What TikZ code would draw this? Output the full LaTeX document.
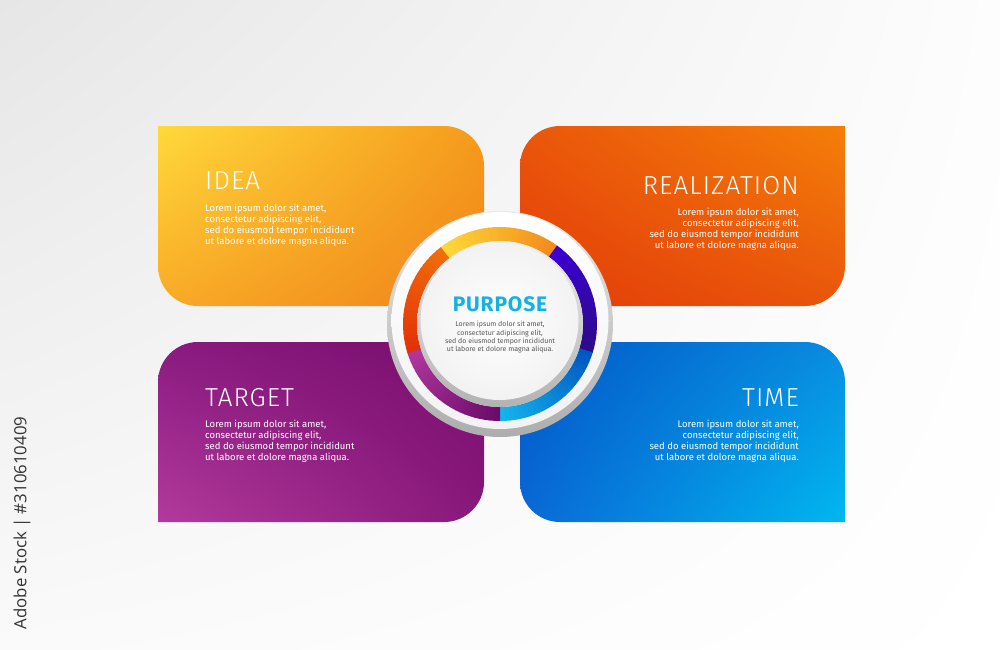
\documentclass[tikz,border=0pt]{standalone}
\usepackage{fontspec}
\usetikzlibrary{shadings}
\setmainfont{Fira Sans}
\newfontfamily\titlefont[LetterSpace=4]{Fira Sans Light}
\newfontfamily\purposefont[LetterSpace=4]{Fira Sans Bold}
\newfontfamily\wmfont{Open Sans}
\definecolor{bgA}{HTML}{E6E6E6}
\definecolor{bgB}{HTML}{FDFDFD}
\definecolor{bgC}{HTML}{FAFAFA}
\definecolor{ideaA}{HTML}{FFD93B}
\definecolor{ideaB}{HTML}{F59A1C}
\definecolor{ideaC}{HTML}{F8AA26}
\definecolor{ideaD}{HTML}{F0841A}
\definecolor{realA}{HTML}{EA560B}
\definecolor{realB}{HTML}{F47F08}
\definecolor{realC}{HTML}{E33C08}
\definecolor{realD}{HTML}{E9560C}
\definecolor{targA}{HTML}{8A1A80}
\definecolor{targB}{HTML}{770E6C}
\definecolor{targC}{HTML}{B23A9C}
\definecolor{targD}{HTML}{88187A}
\definecolor{timeA}{HTML}{0057C6}
\definecolor{timeB}{HTML}{0A8CE0}
\definecolor{timeC}{HTML}{0A68D6}
\definecolor{timeD}{HTML}{00B8F0}
\definecolor{segYa}{HTML}{FFD93A}
\definecolor{segYb}{HTML}{F28A1C}
\definecolor{segIa}{HTML}{3C00D4}
\definecolor{segIb}{HTML}{2C0C88}
\definecolor{segBa}{HTML}{0055C0}
\definecolor{segBb}{HTML}{14B6EE}
\definecolor{segPa}{HTML}{6A0A6A}
\definecolor{segPb}{HTML}{B0389C}
\definecolor{segRa}{HTML}{E43008}
\definecolor{segRb}{HTML}{F06E0A}
\definecolor{purpose}{HTML}{12B2E6}
\definecolor{bodygray}{HTML}{555555}
\definecolor{wmgray}{HTML}{333333}
\tikzset{
  titletext/.style={font=\titlefont\fontsize{26}{30}\selectfont, text=white, inner sep=0pt},
  bodytext/.style={font=\fontsize{9.5}{11}\selectfont, text=white, inner sep=0pt},
}
\begin{document}
\begin{tikzpicture}[x=1pt,y=-1pt]
\useasboundingbox (0,0) rectangle (1000,649);
% background
\shade[upper left=bgA, upper right=bgB, lower left=bgC, lower right=white] (0,0) rectangle (1000,649);
% IDEA box
\shade[upper left=ideaA, upper right=ideaB, lower left=ideaC, lower right=ideaD]
  (158,126) -- (444,126) arc[start angle=-90,end angle=0,radius=40] -- (484,306) -- (198,306) arc[start angle=90,end angle=180,radius=40] -- cycle;
% REALIZATION box
\shade[upper left=realA, upper right=realB, lower left=realC, lower right=realD]
  (520,166) arc[start angle=180,end angle=270,radius=40] -- (845,126) -- (845,266) arc[start angle=0,end angle=90,radius=40] -- (520,306) -- cycle;
% TARGET box
\shade[upper left=targA, upper right=targB, lower left=targC, lower right=targD]
  (158,382) arc[start angle=180,end angle=270,radius=40] -- (484,342) -- (484,482) arc[start angle=0,end angle=90,radius=40] -- (158,522) -- cycle;
% TIME box
\shade[upper left=timeA, upper right=timeB, lower left=timeC, lower right=timeD]
  (520,342) -- (805,342) arc[start angle=-90,end angle=0,radius=40] -- (845,522) -- (560,522) arc[start angle=90,end angle=180,radius=40] -- cycle;
% central circle
\shade[top color=black!9, bottom color=black!32] (500,324) circle[radius=113];
\shade[top color=white, bottom color=black!5] (500,320.5) circle[radius=108.5];
\begin{scope}[shift={(500,324)}]
\foreach \a/\b/\ca/\cb in {-128/-54/segYa/segYb, -54/17/segIa/segIb, 17/90/segBa/segBb, 90/162.5/segPa/segPb, 162.5/232/segRa/segRb} {
  \foreach \i in {0,...,23} {
    \pgfmathsetmacro\s{\a+(\b-\a)*\i/24}
    \pgfmathsetmacro\e{\a+(\b-\a)*(\i+1)/24+0.4}
    \pgfmathsetmacro\p{100-100*(\i+0.5)/24}
    \fill[color=\ca!\p!\cb] (\s:97) arc[start angle=\s,end angle=\e,radius=97] -- (\e:83) arc[start angle=\e,end angle=\s,radius=83] -- cycle;
  }
}
\end{scope}
\shade[top color=black!7, bottom color=black!30] (500,324) circle[radius=83];
\shade[inner color=white, outer color=black!5] (499.5,321) circle[radius=79];
% texts
\node[titletext, anchor=base west] (ideaT) at (205,189) {IDEA};
\node[bodytext, anchor=base west, align=left] (ideaB) at (205,244) {Lorem ipsum dolor sit amet,\\consectetur adipiscing elit,\\sed do eiusmod tempor incididunt\\ut labore et dolore magna aliqua.};
\node[titletext, anchor=base east] (realT) at (799,194) {REALIZATION};
\node[bodytext, anchor=base east, align=right] (realB) at (799,248.5) {Lorem ipsum dolor sit amet,\\consectetur adipiscing elit,\\sed do eiusmod tempor incididunt\\ut labore et dolore magna aliqua.};
\node[titletext, anchor=base west] (targT) at (205,406) {TARGET};
\node[bodytext, anchor=base west, align=left] (targB) at (205,460.5) {Lorem ipsum dolor sit amet,\\consectetur adipiscing elit,\\sed do eiusmod tempor incididunt\\ut labore et dolore magna aliqua.};
\node[titletext, anchor=base east] (timeT) at (799,406) {TIME};
\node[bodytext, anchor=base east, align=right] (timeB) at (799,460.5) {Lorem ipsum dolor sit amet,\\consectetur adipiscing elit,\\sed do eiusmod tempor incididunt\\ut labore et dolore magna aliqua.};
\node[inner sep=0pt, anchor=base, text=purpose, font=\purposefont\fontsize{21}{24}\selectfont] (purT) at (500,311) {PURPOSE};
\node[inner sep=0pt, anchor=base, align=center, text=bodygray, font=\fontsize{7}{8.3}\selectfont] (purB) at (500,351.7) {Lorem ipsum dolor sit amet,\\consectetur adipiscing elit,\\sed do eiusmod tempor incididunt\\ut labore et dolore magna aliqua.};
\node[inner sep=0pt, rotate=90, text=wmgray, font=\wmfont\fontsize{16.8}{18}\selectfont] (wm) at (22,523) {Adobe Stock | \#310610409};
\end{tikzpicture}
\end{document}
